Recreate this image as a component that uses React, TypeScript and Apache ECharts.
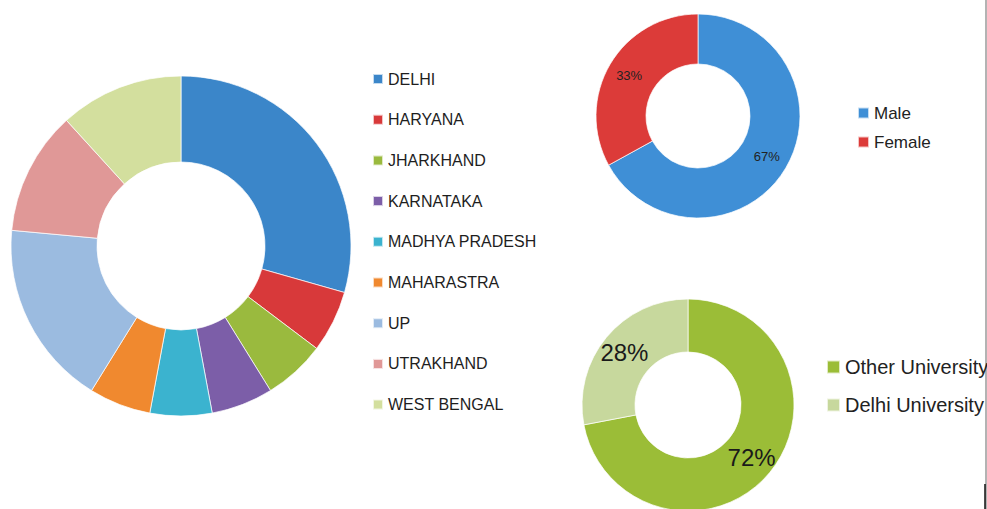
import React, { useEffect, useRef } from "react";
import * as echarts from "echarts";

const states = [
  "DELHI",
  "HARYANA",
  "JHARKHAND",
  "KARNATAKA",
  "MADHYA PRADESH",
  "MAHARASTRA",
  "UP",
  "UTRAKHAND",
  "WEST BENGAL",
];
const stateCounts = [10, 2, 2, 2, 2, 2, 6, 4, 4];

const genders = ["Male", "Female"];
const genderPercents = [67, 33];

const universities = ["Other University", "Delhi University"];
const universityPercents = [72, 28];

const stateColors = [
  "#3b86c9",
  "#d8393a",
  "#9aba3e",
  "#7c5ea8",
  "#3bb3cf",
  "#f0892f",
  "#9bbbe0",
  "#e09897",
  "#d3df9e",
];
const genderColors = ["#3f8fd6", "#dc3b39"];
const universityColors = ["#9bbd37", "#c7d89d"];

const FONT = "'Liberation Sans', Arial, sans-serif";

export default function App() {
  const ref = useRef<HTMLDivElement>(null);

  useEffect(() => {
    if (!ref.current) return;
    const chart = echarts.init(ref.current, undefined, { renderer: "svg" });

    const option: any = {
      animation: false,
      backgroundColor: "#ffffff",
      textStyle: { fontFamily: FONT },
      legend: [
        {
          orient: "vertical",
          left: 372,
          top: 71,
          padding: 0,
          itemWidth: 10,
          itemHeight: 10,
          itemGap: 24.7,
          icon: "rect",
          selectedMode: false,
          data: states,
          textStyle: { fontSize: 16, color: "#1e1e1e", lineHeight: 16, fontFamily: FONT },
        },
        {
          orient: "vertical",
          left: 857,
          top: 103,
          padding: 0,
          itemWidth: 11,
          itemHeight: 11,
          itemGap: 9,
          icon: "rect",
          selectedMode: false,
          data: genders,
          textStyle: { fontSize: 17, color: "#222", lineHeight: 20, fontFamily: FONT },
        },
        {
          orient: "vertical",
          left: 826,
          top: 355,
          padding: 0,
          itemWidth: 13,
          itemHeight: 13,
          itemGap: 14,
          icon: "rect",
          selectedMode: false,
          data: universities,
          textStyle: { fontSize: 20, color: "#222", lineHeight: 24, fontFamily: FONT },
        },
      ],
      series: [
        {
          type: "pie",
          silent: true,
          center: [181, 246],
          radius: [84, 170],
          startAngle: 90,
          clockwise: true,
          label: { show: false },
          labelLine: { show: false },
          itemStyle: { borderColor: "rgba(255,255,255,0.7)", borderWidth: 1 },
          data: states.map((name, i) => ({
            name,
            value: stateCounts[i],
            itemStyle: { color: stateColors[i] },
          })),
        },
        {
          type: "pie",
          silent: true,
          center: [698, 116],
          radius: [52, 102],
          startAngle: 90,
          clockwise: true,
          label: {
            show: true,
            position: "inside",
            formatter: "{c}%",
            fontSize: 13,
            color: "#222",
            fontFamily: FONT,
          },
          labelLine: { show: false },
          itemStyle: { borderColor: "rgba(255,255,255,0.7)", borderWidth: 1 },
          data: genders.map((name, i) => ({
            name,
            value: genderPercents[i],
            itemStyle: { color: genderColors[i] },
          })),
        },
        {
          type: "pie",
          silent: true,
          center: [688, 405],
          radius: [53, 106],
          startAngle: 90,
          clockwise: true,
          label: {
            show: true,
            position: "inside",
            formatter: "{c}%",
            fontSize: 24,
            color: "#1a1a1a",
            fontFamily: FONT,
          },
          labelLine: { show: false },
          itemStyle: { borderColor: "rgba(255,255,255,0.7)", borderWidth: 1 },
          data: universities.map((name, i) => ({
            name,
            value: universityPercents[i],
            itemStyle: { color: universityColors[i] },
          })),
        },
      ],
      graphic: [
        {
          type: "line",
          silent: true,
          shape: { x1: 986, y1: 0, x2: 986, y2: 509 },
          style: { stroke: "#9a9a9a", lineWidth: 1.5 },
        },
        {
          type: "line",
          silent: true,
          shape: { x1: 985, y1: 484, x2: 985, y2: 509 },
          style: { stroke: "#111", lineWidth: 1.5 },
        },
      ],
    };

    chart.setOption(option);
    return () => chart.dispose();
  }, []);

  return (
    <div
      ref={ref}
      style={{ position: "absolute", left: 0, top: 0, width: 987, height: 509 }}
    />
  );
}
